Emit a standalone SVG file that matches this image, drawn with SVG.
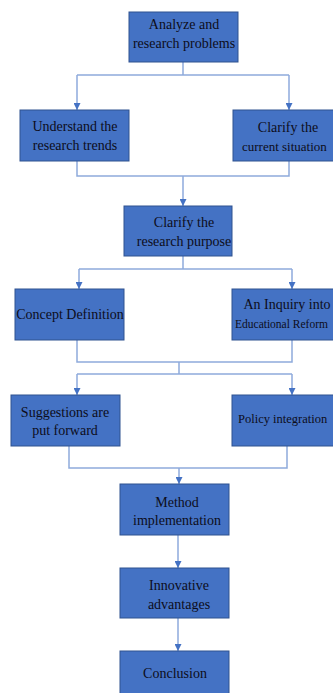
<svg xmlns="http://www.w3.org/2000/svg" width="333" height="693" viewBox="0 0 333 693">
<defs>
<style>
.box{fill:#4472C4;stroke:#2F528F;stroke-width:1}
.t{font-family:"Liberation Serif","Times New Roman",serif;font-size:14px;fill:#0d0d1a;text-anchor:middle}
.e{font-family:"Liberation Serif","Times New Roman",serif;font-size:13px;fill:#0d0d1a;text-anchor:start}
.c{fill:none;stroke:#8EAADC;stroke-width:1.5}
.a{fill:none;stroke:#8EAADC;stroke-width:1.5;marker-end:url(#ah)}
</style>
<marker id="ah" markerUnits="userSpaceOnUse" markerWidth="8" markerHeight="7" refX="7" refY="3.5" orient="auto">
<path d="M0,0 L7,3.5 L0,7 Z" fill="#4472C4"/>
</marker>
</defs>
<rect width="333" height="693" fill="#fff"/>
<g id="connectors">
<path class="c" d="M183,62 V75 M77,75 H289"/>
<path class="a" d="M77,75 V110"/>
<path class="a" d="M289,75 V110"/>
<path class="c" d="M77,161 V176 H289 V161"/>
<path class="a" d="M183,176 V206"/>
<path class="c" d="M183,256 V269 M79,269 H292"/>
<path class="a" d="M79,269 V289"/>
<path class="a" d="M292,269 V289"/>
<path class="c" d="M77,340 V362 H292 V340 M179,362 V374 M77,374 H292"/>
<path class="a" d="M77,374 V395"/>
<path class="a" d="M292,374 V395"/>
<path class="c" d="M69,446 V468 H287 V446"/>
<path class="a" d="M179,468 V484"/>
<path class="a" d="M178,535 V568"/>
<path class="a" d="M178,618 V651"/>
</g>
<g id="n1"><rect class="box" x="129" y="12" width="109" height="50"/><text class="t" x="184" y="29">Analyze and</text><text class="t" x="184" y="48">research problems</text></g>
<g id="n2"><rect class="box" x="20" y="110" width="109" height="51"/><text class="t" x="75" y="131">Understand the</text><text class="t" x="75" y="150">research trends</text></g>
<g id="n3"><rect class="box" x="233" y="110" width="110" height="51"/><text class="t" x="288" y="132">Clarify the</text><text class="e" x="242" y="151">current situation</text></g>
<g id="n4"><rect class="box" x="124" y="206" width="108" height="50"/><text class="t" x="184" y="227">Clarify the</text><text class="t" x="184" y="246">research purpose</text></g>
<g id="n5"><rect class="box" x="15" y="289" width="109" height="51"/><text class="t" x="70" y="319">Concept Definition</text></g>
<g id="n6"><rect class="box" x="232" y="289" width="111" height="51"/><text class="t" x="287" y="309">An Inquiry into</text><text class="e" x="235" y="328" style="font-size:11.5px">Educational Reform</text></g>
<g id="n7"><rect class="box" x="11" y="395" width="109" height="51"/><text class="t" x="65" y="417">Suggestions are</text><text class="t" x="65" y="435">put forward</text></g>
<g id="n8"><rect class="box" x="232" y="395" width="111" height="51"/><text class="e" x="238" y="423" style="font-size:12.5px">Policy integration</text></g>
<g id="n9"><rect class="box" x="120" y="484" width="109" height="51"/><text class="t" x="177" y="507">Method</text><text class="t" x="177" y="525">implementation</text></g>
<g id="n10"><rect class="box" x="120" y="568" width="109" height="50"/><text class="t" x="179" y="590">Innovative</text><text class="t" x="179" y="609">advantages</text></g>
<g id="n11"><rect class="box" x="120" y="651" width="109" height="50"/><text class="t" x="175" y="678">Conclusion</text></g>
</svg>
